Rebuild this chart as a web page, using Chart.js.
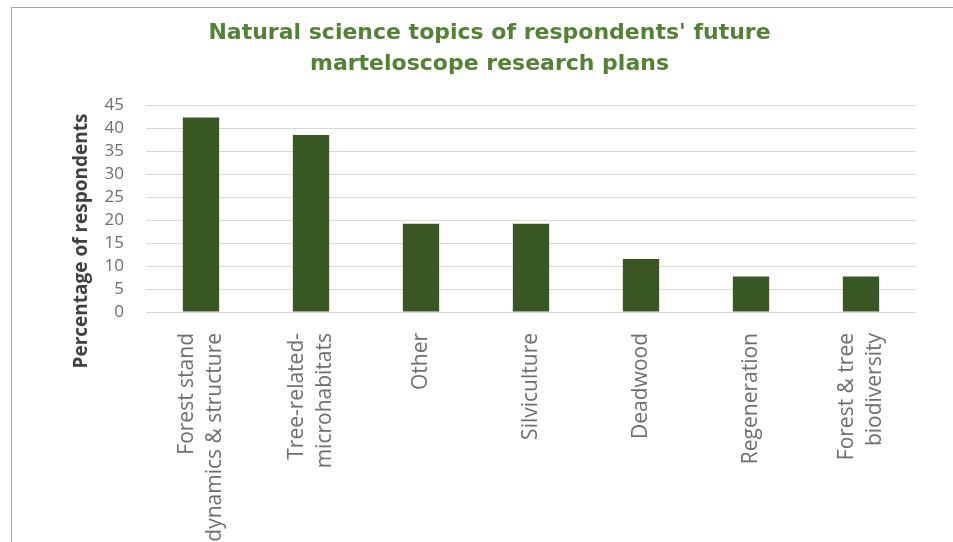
<!DOCTYPE html>
<html>
<head>
<meta charset="utf-8">
<script src="https://cdn.jsdelivr.net/npm/chart.js@4.4.1/dist/chart.umd.min.js"></script>
<style>
  html, body { margin: 0; padding: 0; background: #fff; overflow: hidden; width: 953px; height: 542px; }
  #frame { position: absolute; left: 11px; top: 7px; width: 955px; height: 620px;
           border-top: 1px solid #a6a6a6; border-left: 1px solid #a6a6a6; }
</style>
</head>
<body>
<div id="frame"><canvas id="myChart"></canvas></div>
<script>
// Topics and percentage of respondents
const topics = [
    ['Forest stand', 'dynamics & structure'],
    ['Tree-related-', 'microhabitats'],
    'Other',
    'Silviculture',
    'Deadwood',
    'Regeneration',
    ['Forest & tree', 'biodiversity']
];
const percentages = [42.3, 38.5, 19.2, 19.2, 11.5, 7.7, 7.7];

const chartTitle = ["Natural science topics of respondents' future", 'marteloscope research plans'];
const yTitle = 'Percentage of respondents';

// Draws the y axis title and the rotated category labels (centred on each tick)
const labelsPlugin = {
    id: 'labels',
    afterDraw(chart) {
        const ctx = chart.ctx;
        const xScale = chart.scales.x;

        ctx.save();
        ctx.translate(70, 233);
        ctx.rotate(-Math.PI / 2);
        ctx.font = 'bold 19px "Open Sans"';
        ctx.fillStyle = '#404040';
        ctx.textAlign = 'center';
        ctx.textBaseline = 'middle';
        ctx.fillText(yTitle, 0, 0);
        ctx.restore();

        const lineGap = 28;
        const top = chart.chartArea.bottom + 21;
        ctx.save();
        ctx.font = '21px "Open Sans"';
        ctx.fillStyle = '#6e6e6e';
        ctx.textAlign = 'right';
        ctx.textBaseline = 'middle';
        topics.forEach((label, i) => {
            const lines = Array.isArray(label) ? label : [label];
            const x = xScale.getPixelForTick(i);
            lines.forEach((line, j) => {
                const off = (j - (lines.length - 1) / 2) * lineGap;
                ctx.save();
                ctx.translate(x + off, top);
                ctx.rotate(-Math.PI / 2);
                ctx.fillText(line, 0, 0);
                ctx.restore();
            });
        });
        ctx.restore();
    }
};

const ctx = document.getElementById('myChart');
new Chart(ctx, {
    type: 'bar',
    data: {
        labels: topics,
        datasets: [{
            label: yTitle,
            data: percentages,
            backgroundColor: '#385723',
            borderWidth: 0,
            barPercentage: 0.33,
            categoryPercentage: 1
        }]
    },
    options: {
        responsive: true,
        maintainAspectRatio: false,
        animation: false,
        layout: { padding: { left: 51, right: 51, top: 0, bottom: 0 } },
        plugins: {
            legend: { display: false },
            tooltip: { enabled: false },
            title: {
                display: true,
                text: chartTitle,
                color: '#548235',
                font: { family: '"DejaVu Sans", sans-serif', size: 22, weight: 'bold', lineHeight: 1.41 },
                padding: { top: 10, bottom: 25 }
            }
        },
        scales: {
            x: {
                grid: { display: false, drawTicks: false },
                border: { display: false },
                ticks: { display: false },
                afterFit(scale) { scale.height = 316; }
            },
            y: {
                min: 0,
                max: 45,
                grid: { color: '#d9d9d9', lineWidth: 1, drawTicks: false },
                border: { display: false },
                ticks: {
                    stepSize: 5,
                    autoSkip: false,
                    color: '#6e6e6e',
                    font: { family: '"Open Sans"', size: 17, lineHeight: 1 },
                    padding: 22
                },
                afterFit(scale) { scale.width = 83; }
            }
        }
    },
    plugins: [labelsPlugin]
});
</script>
</body>
</html>
